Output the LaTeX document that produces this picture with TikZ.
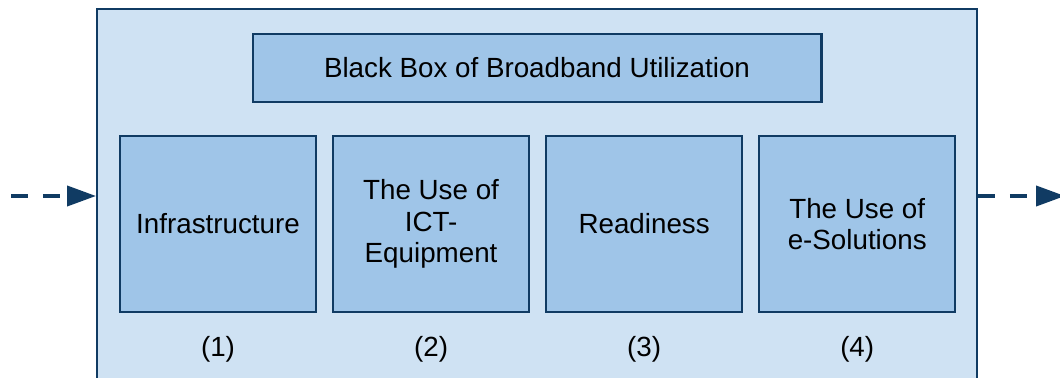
\documentclass[tikz,border=0pt]{standalone}
\usepackage{fontspec}
\setmainfont{Liberation Sans}
\usetikzlibrary{positioning, arrows.meta}
\definecolor{boxline}{HTML}{103B63}
\definecolor{outerfill}{HTML}{CFE2F3}
\definecolor{innerfill}{HTML}{9FC5E8}
\tikzstyle{outerbox} = [rectangle, draw=boxline, fill=outerfill, line width=1.2pt, minimum width=17.6cm, minimum height=7.48cm]
\tikzstyle{titlebox} = [rectangle, draw=boxline, fill=innerfill, line width=1.2pt, minimum width=11.38cm, minimum height=1.36cm, text centered]
\tikzstyle{stage} = [rectangle, draw=boxline, fill=innerfill, line width=1.2pt, minimum width=3.92cm, minimum height=3.52cm, align=center]
\tikzstyle{flow} = [boxline, line width=2.2pt, dash pattern=on 0.34cm off 0.3cm, -{Triangle[length=0.58cm,width=0.4cm]}]
\begin{document}
\begin{tikzpicture}[x=0.02cm, y=-0.02cm, node distance=0.30cm, every node/.style={font=\fontsize{15.8}{17.9}\selectfont}]

    \useasboundingbox (0,0) rectangle (1060,378);
    \clip (0,0) rectangle (1060,378);

    \node (outer) [outerbox] at (537,196) {};
    \node (title) [titlebox, below=0.5cm of outer.north] {Black Box of Broadband Utilization};

    \node (infra) [stage] at (218,224) {Infrastructure};
    \node (ict) [stage, right=of infra] {The Use of\\ICT-\\Equipment};
    \node (ready) [stage, right=of ict] {Readiness};
    \node (esol) [stage, right=of ready] {The Use of\\e-Solutions};

    \node (n1) at ([yshift=-0.72cm]infra.south) {(1)};
    \node (n2) at ([yshift=-0.72cm]ict.south) {(2)};
    \node (n3) at ([yshift=-0.72cm]ready.south) {(3)};
    \node (n4) at ([yshift=-0.72cm]esol.south) {(4)};

    \coordinate (in) at (11,196);
    \coordinate (out) at (1065,196);
    \draw [flow] (in) -- (outer.west);
    \draw [flow] (outer.east) -- (out);

\end{tikzpicture}
\end{document}
